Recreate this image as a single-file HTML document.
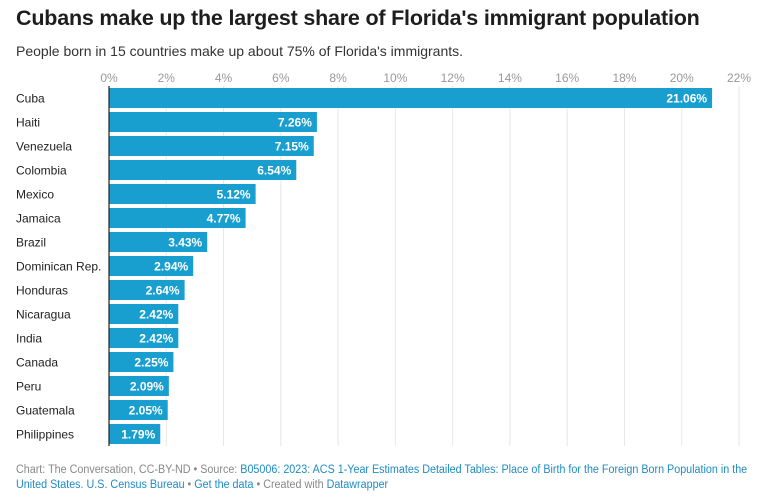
<!DOCTYPE html>
<html><head><meta charset="utf-8"><style>
body{margin:0;background:#fff;font-family:"Liberation Sans",sans-serif;width:765px;height:500px;overflow:hidden;position:relative}
#title{position:absolute;left:16px;top:6px;font-size:21.5px;font-weight:bold;color:#1d1d1d;margin:0;letter-spacing:-0.2px}
#sub{position:absolute;left:16px;top:43px;font-size:14px;color:#333}
#foot{position:absolute;left:16px;top:463px;font-size:11.5px;color:#888;line-height:15px;width:870px;transform:scaleX(0.935);transform-origin:0 0;white-space:nowrap}
#foot a{color:#1f8bc4;text-decoration:none}
svg{position:absolute;left:0;top:0}
</style></head><body>
<h1 id="title">Cubans make up the largest share of Florida's immigrant population</h1>
<div id="sub">People born in 15 countries make up about 75% of Florida's immigrants.</div>
<svg id="chart" width="765" height="500"></svg>
<div id="foot">Chart: The Conversation, CC-BY-ND • Source: <a>B05006: 2023: ACS 1-Year Estimates Detailed Tables: Place of Birth for the Foreign Born Population in the</a><br><a>United States. U.S. Census Bureau</a> • <a>Get the data</a> • Created with <a>Datawrapper</a></div>
<script>
const categories=["Cuba","Haiti","Venezuela","Colombia","Mexico","Jamaica","Brazil","Dominican Rep.","Honduras","Nicaragua","India","Canada","Peru","Guatemala","Philippines"];
const values=[21.06,7.26,7.15,6.54,5.12,4.77,3.43,2.94,2.64,2.42,2.42,2.25,2.09,2.05,1.79];
const ticks=[0,2,4,6,8,10,12,14,16,18,20,22];
const NS="http://www.w3.org/2000/svg";
const svg=document.getElementById('chart');
const x0=109,x1=739,maxV=22,top0=88,step=24,bh=20;
const xs=v=>x0+(v/maxV)*(x1-x0);
const ys=i=>top0+i*step;
function mk(t,a){const e=document.createElementNS(NS,t);for(const k in a)e.setAttribute(k,a[k]);svg.appendChild(e);return e;}
ticks.forEach(t=>{
  const g=mk('line',{x1:xs(t),x2:xs(t),y1:86,y2:446,stroke:'#e6e6e6','stroke-width':1});
  
  
  const l=mk('text',{x:xs(t),y:82,'text-anchor':'middle','font-size':12,fill:'#999'});
  l.textContent=t+'%';
  
  
});
categories.forEach((c,i)=>{
  const y=ys(i);
  const r=mk('rect',{x:x0,y:y,width:xs(values[i])-x0,height:bh,fill:'#189fcf'});
  
  
  const lb=mk('text',{x:16,y:y+14.5,'font-size':12,fill:'#222'});
  lb.textContent=c;
  
  
  const v=mk('text',{x:xs(values[i])-5,y:y+14.5,'text-anchor':'end','font-size':12,'font-weight':'bold',fill:'#fff'});
  v.textContent=values[i].toFixed(2)+'%';
  
  
});
const ax=mk('line',{x1:x0,x2:x0,y1:86,y2:446,stroke:'#222','stroke-width':1.2});


</script>
</body></html>
